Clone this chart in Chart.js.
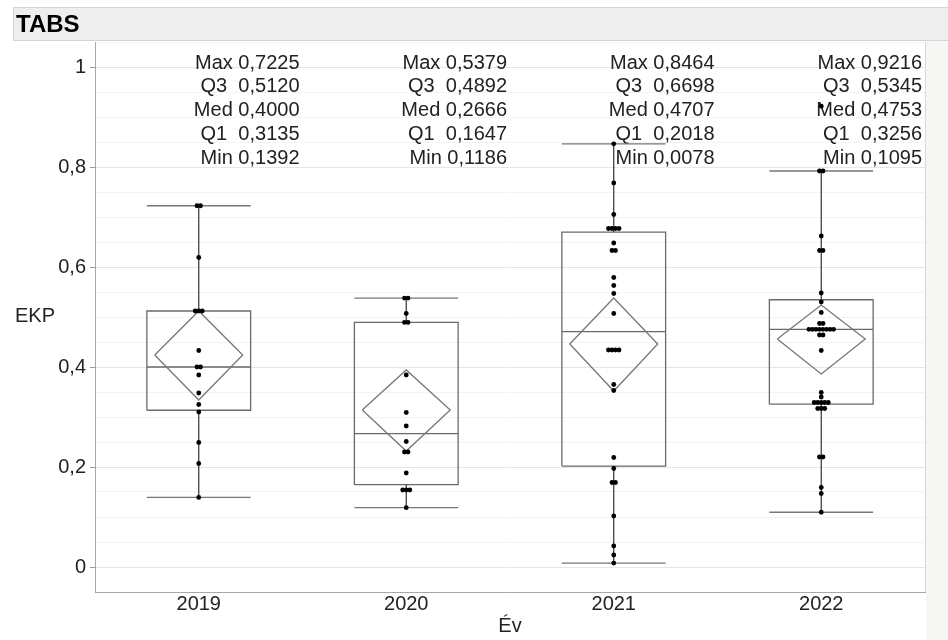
<!DOCTYPE html>
<html>
<head>
<meta charset="utf-8">
<script src="https://cdn.jsdelivr.net/npm/chart.js@4.4.1/dist/chart.umd.min.js"></script>
<style>
  html, body { margin: 0; padding: 0; background: #fff; }
  #wrap { width: 948px; height: 640px; }
</style>
</head>
<body>
<div id="wrap"><canvas id="Chart"></canvas></div>
<script>
var years = ['2019', '2020', '2021', '2022'];

// summary stats (as printed on the chart)
var maxV = [0.7225, 0.5379, 0.8464, 0.9216];
var q3V = [0.5120, 0.4892, 0.6698, 0.5345];
var medV = [0.4000, 0.2666, 0.4707, 0.4753];
var q1V = [0.3135, 0.1647, 0.2018, 0.3256];
var minV = [0.1392, 0.1186, 0.0078, 0.1095];
// upper whisker end (2022 max is an outlier)
var whiskerHi = [0.7225, 0.5379, 0.8464, 0.7920];

// means diamonds: mean and 95% CI
var meanV = [0.424, 0.314, 0.446, 0.456];
var ciLo = [0.334, 0.232, 0.352, 0.386];
var ciHi = [0.512, 0.394, 0.538, 0.524];

var pts2019 = [0.7225, 0.7225, 0.619, 0.512, 0.512, 0.512, 0.433, 0.400, 0.400, 0.384, 0.348, 0.325, 0.310, 0.249, 0.207, 0.1392];
var pts2020 = [0.5379, 0.5379, 0.507, 0.4892, 0.4892, 0.384, 0.309, 0.282, 0.251, 0.230, 0.230, 0.188, 0.154, 0.154, 0.154, 0.1186];
var pts2021 = [0.8464, 0.768, 0.705, 0.677, 0.677, 0.677, 0.677, 0.648, 0.633, 0.633, 0.579, 0.563, 0.547, 0.507,
               0.434, 0.434, 0.434, 0.434, 0.365, 0.353, 0.219, 0.197, 0.169, 0.169, 0.102, 0.042, 0.024, 0.0078];
var pts2022 = [0.9216, 0.792, 0.792, 0.662, 0.633, 0.633, 0.548, 0.530, 0.509, 0.487, 0.487,
               0.4753, 0.4753, 0.4753, 0.4753, 0.4753, 0.4753, 0.4753, 0.4753, 0.464, 0.464, 0.433,
               0.349, 0.340, 0.329, 0.329, 0.329, 0.329, 0.329, 0.317, 0.317, 0.317, 0.220, 0.220, 0.159, 0.147, 0.1095];
var allPts = [pts2019, pts2020, pts2021, pts2022];

var boxHalf = 0.25;
var diaHalf = 0.212;
var dotStep = 0.017;

function fmt(v) {
    return v.toFixed(4).replace('.', ',');
}

// build line segments, null point breaks the line
var boxLines = [], capLines = [], whiskerLines = [], diamondLines = [], dots = [];
var gap = {x: null, y: null};
for (var i = 0; i < years.length; i++) {
    boxLines.push({x: i - boxHalf, y: q1V[i]}, {x: i + boxHalf, y: q1V[i]}, {x: i + boxHalf, y: q3V[i]},
                  {x: i - boxHalf, y: q3V[i]}, {x: i - boxHalf, y: q1V[i]}, gap);
    boxLines.push({x: i - boxHalf, y: medV[i]}, {x: i + boxHalf, y: medV[i]}, gap);
    capLines.push({x: i - boxHalf, y: minV[i]}, {x: i + boxHalf, y: minV[i]}, gap);
    capLines.push({x: i - boxHalf, y: whiskerHi[i]}, {x: i + boxHalf, y: whiskerHi[i]}, gap);
    whiskerLines.push({x: i, y: minV[i]}, {x: i, y: q1V[i]}, gap);
    whiskerLines.push({x: i, y: q3V[i]}, {x: i, y: whiskerHi[i]}, gap);
    diamondLines.push({x: i - diaHalf, y: meanV[i]}, {x: i, y: ciHi[i]}, {x: i + diaHalf, y: meanV[i]},
                      {x: i, y: ciLo[i]}, {x: i - diaHalf, y: meanV[i]}, gap);

    // spread equal values side by side
    var counts = {};
    allPts[i].forEach(function(v) { counts[v] = (counts[v] || 0) + 1; });
    var seen = {};
    allPts[i].forEach(function(v) {
        var k = seen[v] || 0;
        seen[v] = k + 1;
        dots.push({x: i + (k - (counts[v] - 1) / 2) * dotStep, y: v});
    });
}

var frame = {
    id: 'frame',
    beforeDraw: function(chart) {
        var c = chart.ctx, a = chart.chartArea;
        c.save();
        // title bar
        c.fillStyle = '#eeeeee';
        c.fillRect(13, 7, 935, 34);
        c.strokeStyle = '#d4d4d4';
        c.lineWidth = 1;
        c.strokeRect(13.5, 7.5, 940, 33);
        c.fillStyle = '#000';
        c.font = 'bold 24px "Liberation Sans", Arial, sans-serif';
        c.textBaseline = 'middle';
        c.fillText('TABS', 16, 25);
        // right strip
        c.fillStyle = '#f6f6f4';
        c.fillRect(a.right + 1, 41, 948 - a.right, 640);
        c.strokeStyle = '#d8d8d8';
        c.beginPath();
        c.moveTo(a.right + 0.5, a.top);
        c.lineTo(a.right + 0.5, a.bottom);
        c.stroke();
        c.restore();
    },
    // stats text goes under the marks
    beforeDatasetsDraw: function(chart) {
        var c = chart.ctx, a = chart.chartArea, xs = chart.scales.x;
        c.save();
        c.fillStyle = '#222';
        c.font = '20px "Liberation Sans", Arial, sans-serif';
        c.textBaseline = 'middle';
        c.textAlign = 'left';
        c.fillText('EKP', 15, 316);
        c.textAlign = 'right';
        for (var i = 0; i < years.length; i++) {
            var rx = xs.getPixelForValue(i + 0.5) - 3;
            var rows = ['Max ' + fmt(maxV[i]), 'Q3  ' + fmt(q3V[i]), 'Med ' + fmt(medV[i]),
                        'Q1  ' + fmt(q1V[i]), 'Min ' + fmt(minV[i])];
            rows.forEach(function(t, r) {
                c.fillText(t, rx, a.top + 21 + r * 23.8);
            });
        }
        c.restore();
    }
};

function isMajor(v) {
    return Math.abs(v * 5 - Math.round(v * 5)) < 1e-6;
}

var ctx = document.getElementById('Chart');
var lineDs = function(data, color, width) {
    return {
        data: data,
        showLine: true,
        spanGaps: false,
        borderColor: color,
        borderWidth: width,
        pointRadius: 0,
        fill: false
    };
};

window.myChart = new Chart(ctx, {
    type: 'scatter',
    data: {
        datasets: [
            {
                data: dots,
                backgroundColor: '#000',
                borderColor: '#000',
                pointRadius: 2.4,
                borderWidth: 0
            },
            lineDs(whiskerLines, '#333', 1.2),
            lineDs(capLines, '#777', 1.3),
            lineDs(diamondLines, '#777', 1.3),
            lineDs(boxLines, '#6a6a6a', 1.3)
        ]
    },
    options: {
        responsive: true,
        maintainAspectRatio: false,
        animation: false,
        layout: { padding: { top: 42, right: 23, bottom: 0, left: 0 } },
        plugins: {
            legend: { display: false },
            tooltip: { enabled: false }
        },
        scales: {
            x: {
                type: 'linear',
                min: -0.5,
                max: 3.5,
                afterBuildTicks: function(s) {
                    s.ticks = years.map(function(y, i) { return {value: i}; });
                },
                afterFit: function(s) { s.height = 48; },
                grid: { display: false, drawTicks: false },
                border: { display: true, color: '#a8a8a8' },
                ticks: {
                    padding: 0,
                    color: '#222',
                    font: { size: 20, family: '"Liberation Sans", Arial, sans-serif' },
                    callback: function(v) { return years[v]; }
                },
                title: {
                    display: true,
                    text: 'Év',
                    color: '#222',
                    padding: { top: 0, bottom: 2 },
                    font: { size: 20, family: '"Liberation Sans", Arial, sans-serif' }
                }
            },
            y: {
                min: -0.05,
                max: 1.05,
                afterFit: function(s) { s.width = 95; },
                border: { display: true, color: '#a8a8a8' },
                grid: {
                    color: function(c) { return isMajor(c.tick.value) ? '#e6e6e6' : '#f3f3f3'; },
                    tickColor: function(c) { return isMajor(c.tick.value) ? '#999' : 'rgba(0,0,0,0)'; },
                    tickLength: 5
                },
                ticks: {
                    stepSize: 0.05,
                    maxTicksLimit: 40,
                    autoSkip: false,
                    padding: 4,
                    color: '#222',
                    font: { size: 20, family: '"Liberation Sans", Arial, sans-serif' },
                    callback: function(v) {
                        if (!isMajor(v) || v < -1e-6) return '';
                        return String(Math.round(v * 10) / 10).replace('.', ',');
                    }
                }
            }
        }
    },
    plugins: [frame]
});
</script>
</body>
</html>
